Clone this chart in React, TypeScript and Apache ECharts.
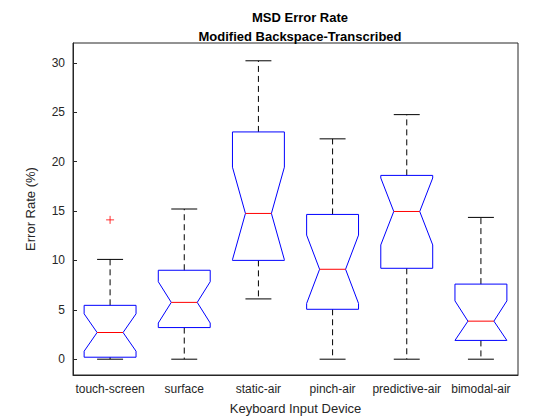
import React, { useEffect, useRef } from 'react';
import * as echarts from 'echarts';

const devices = ['touch-screen', 'surface', 'static-air', 'pinch-air', 'predictive-air', 'bimodal-air'];
const lowerWhisker = [0, 0, 6.1, 0, 0, 0];
const q1 = [0.2, 3.2, 10.0, 5.05, 9.2, 1.9];
const median = [2.7, 5.75, 14.75, 9.1, 14.95, 3.85];
const q3 = [5.45, 9.0, 23.0, 14.65, 18.6, 7.6];
const upperWhisker = [10.1, 15.2, 30.2, 22.3, 24.75, 14.35];
const outliers = [[0, 14.1]];
const sampleSize = 19;
const yTicks = [0, 5, 10, 15, 20, 25, 30];

const App = () => {
  const chartRef = useRef(null);

  useEffect(() => {
    const myChart = echarts.init(chartRef.current, null, { renderer: 'svg' });

    const boxes = devices.map((_, i) => {
      const half = (1.57 * (q3[i] - q1[i])) / Math.sqrt(sampleSize);
      return [i, lowerWhisker[i], q1[i], median[i], q3[i], upperWhisker[i],
        Math.max(q1[i], median[i] - half), Math.min(q3[i], median[i] + half)];
    });

    const renderBox = (params, api) => {
      const i = api.value(0);
      const band = api.size([1, 0])[0];
      const hw = band * 0.35;
      const nw = hw * 0.5;
      const cw = hw * 0.5;
      const p = (v) => api.coord([i, v]);
      const x = p(0)[0];
      const yLo = p(api.value(1))[1];
      const yQ1 = p(api.value(2))[1];
      const yMed = p(api.value(3))[1];
      const yQ3 = p(api.value(4))[1];
      const yHi = p(api.value(5))[1];
      const yNL = p(api.value(6))[1];
      const yNH = p(api.value(7))[1];
      const black = { stroke: '#000', lineWidth: 1, lineDash: [6, 4] };
      return {
        type: 'group',
        children: [
          { type: 'line', shape: { x1: x, y1: yQ3, x2: x, y2: yHi }, style: black },
          { type: 'line', shape: { x1: x, y1: yQ1, x2: x, y2: yLo }, style: black },
          { type: 'line', shape: { x1: x - cw, y1: yHi, x2: x + cw, y2: yHi }, style: { stroke: '#000', lineWidth: 1 } },
          { type: 'line', shape: { x1: x - cw, y1: yLo, x2: x + cw, y2: yLo }, style: { stroke: '#000', lineWidth: 1 } },
          {
            type: 'polygon',
            shape: {
              points: [
                [x - hw, yQ1], [x - hw, yNL], [x - nw, yMed], [x - hw, yNH], [x - hw, yQ3],
                [x + hw, yQ3], [x + hw, yNH], [x + nw, yMed], [x + hw, yNL], [x + hw, yQ1],
              ],
            },
            style: { fill: 'none', stroke: '#0000ff', lineWidth: 1 },
          },
          { type: 'line', shape: { x1: x - nw, y1: yMed, x2: x + nw, y2: yMed }, style: { stroke: '#ff0000', lineWidth: 1 } },
        ],
      };
    };

    myChart.setOption({
      animation: false,
      backgroundColor: '#fff',
      title: {
        text: 'MSD Error Rate\nModified Backspace-Transcribed',
        left: 295,
        textAlign: 'center',
        top: 3,
        textStyle: { fontFamily: 'Liberation Sans', fontSize: 13, fontWeight: 'bold', color: '#000', lineHeight: 19 },
      },
      grid: { left: 73, right: 42, top: 43, bottom: 45, show: true, borderColor: '#262626', borderWidth: 1 },
      xAxis: {
        type: 'category',
        data: devices,
        name: 'Keyboard Input Device',
        nameLocation: 'middle',
        nameGap: 27,
        nameTextStyle: { fontFamily: 'Liberation Sans', fontSize: 13, color: '#262626' },
        axisLine: { onZero: false, lineStyle: { color: '#262626' } },
        axisTick: { inside: true, alignWithLabel: true, length: 4, lineStyle: { color: '#262626' } },
        axisLabel: { fontFamily: 'Liberation Sans', fontSize: 12, color: '#262626', margin: 8, interval: 0 },
      },
      yAxis: {
        type: 'value',
        min: -1.6,
        max: 32,
        name: 'Error Rate (%)',
        nameLocation: 'middle',
        nameGap: 36,
        nameTextStyle: { fontFamily: 'Liberation Sans', fontSize: 13, color: '#262626' },
        splitLine: { show: false },
        axisLine: { show: true, onZero: false, lineStyle: { color: '#262626' } },
        axisTick: { show: true, inside: true, length: 4, customValues: yTicks, lineStyle: { color: '#262626' } },
        axisLabel: { fontFamily: 'Liberation Sans', fontSize: 12, color: '#262626', customValues: yTicks },
      },
      series: [
        { type: 'custom', renderItem: renderBox, data: boxes, encode: { x: 0, y: [1, 5] } },
        {
          type: 'scatter',
          data: outliers,
          symbol: 'path://M0,5L10,5M5,0L5,10',
          symbolSize: 8,
          itemStyle: { color: 'none', borderColor: '#ff0000', borderWidth: 1 },
        },
      ],
    });

    return () => {
      myChart.dispose();
    };
  }, []);

  return <div ref={chartRef} style={{ position: 'fixed', left: 0, top: 0, width: '560px', height: '420px' }} />;
};

export default App;
